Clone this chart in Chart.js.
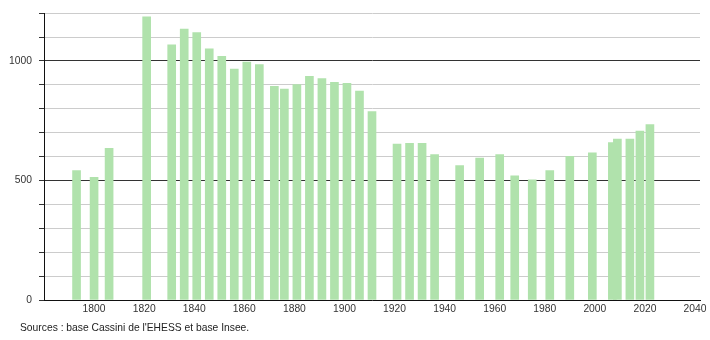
<!DOCTYPE html>
<html>
<head>
<meta charset="utf-8">
<script src="https://cdn.jsdelivr.net/npm/chart.js@4"></script>
<style>
  body { margin: 0; background: #fff; }
</style>
</head>
<body>
<canvas id="pop-chart" width="710" height="340"></canvas>
<script>
// census years and population
const years = [1793, 1800, 1806, 1821, 1831, 1836, 1841, 1846, 1851, 1856,
    1861, 1866, 1872, 1876, 1881, 1886, 1891, 1896, 1901, 1906,
    1911, 1921, 1926, 1931, 1936, 1946, 1954, 1962, 1968, 1975,
    1982, 1990, 1999, 2007, 2009, 2014, 2018, 2022];
const population = [541, 513, 635, 1185, 1068, 1134, 1119, 1051, 1019, 966,
    995, 985, 894, 882, 901, 936, 926, 911, 907, 874,
    788, 652, 656, 656, 608, 562, 594, 608, 520, 503,
    541, 601, 616, 659, 673, 673, 707, 734];
const x_ticks = [1800, 1820, 1840, 1860, 1880, 1900, 1920, 1940, 1960, 1980, 2000, 2020, 2040];
const y_labels = [0, 500, 1000];
const source_text = "Sources : base Cassini de l'EHESS et base Insee.";

const bar_color = "rgb(176, 226, 172)";
const font_name = "'Liberation Sans', Arial, sans-serif";

const sources_plugin = {
    id: "sources",
    afterDraw(chart) {
        const ctx = chart.ctx;
        ctx.save();
        ctx.font = "10.3px " + font_name;
        ctx.fillStyle = "#222";
        ctx.textBaseline = "middle";
        ctx.fillText(source_text, 20, 328);
        ctx.restore();
    }
};

const my_chart = new Chart("pop-chart", {
    type: "bar",
    data: {
        datasets: [{
            data: years.map((yr, i) => ({ x: yr, y: population[i] })),
            backgroundColor: bar_color,
            barThickness: 8
        }]
    },
    options: {
        responsive: false,
        animation: false,
        layout: { padding: { left: 0, right: 10, top: 10, bottom: 0 } },
        plugins: {
            legend: { display: false },
            tooltip: { enabled: false }
        },
        scales: {
            x: {
                type: "linear",
                offset: false,
                min: 1780,
                max: 2042,
                grid: { display: false, drawTicks: false },
                border: { display: true, color: "#111", width: 1 },
                afterBuildTicks(scale) {
                    scale.ticks = x_ticks.map((v) => ({ value: v }));
                },
                ticks: {
                    color: "#333",
                    font: { family: font_name, size: 10.3 },
                    maxRotation: 0,
                    autoSkip: false,
                    padding: 3,
                    callback: (v) => String(v)
                },
                afterFit(scale) { scale.height = 40; }
            },
            y: {
                min: 0,
                max: 1200,
                grid: {
                    color: (c) => (c.tick.value % 500 === 0 && c.tick.value > 0 ? "#333" : "#ccc"),
                    tickColor: "#333",
                    tickLength: 5
                },
                border: { display: true, color: "#111", width: 1 },
                ticks: {
                    stepSize: 100,
                    color: "#333",
                    font: { family: font_name, size: 10.3 },
                    padding: 7,
                    callback: (v) => (y_labels.includes(v) ? String(v) : "")
                },
                afterFit(scale) { scale.width = 44; }
            }
        }
    },
    plugins: [sources_plugin]
});
</script>
</body>
</html>
